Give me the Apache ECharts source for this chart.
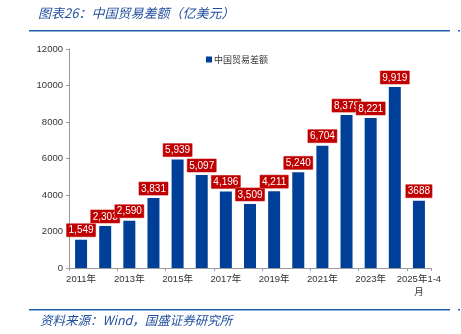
<!DOCTYPE html>
<html><head><meta charset="utf-8">
<script src="https://cdn.jsdelivr.net/npm/echarts@6/dist/echarts.min.js"></script>
<style>html,body{margin:0;padding:0;background:#fff}#c{width:461px;height:334px}</style>
</head><body><div id="c"></div>
<script>
const categories = ['2011年','2012年','2013年','2014年','2015年','2016年','2017年','2018年','2019年','2020年','2021年','2022年','2023年','2024年','2025年1-4\n月'];
const values = [1549,2303,2590,3831,5939,5097,4196,3509,4211,5240,6704,8379,8221,9919,3688];
const valueLabels = ['1,549','2,303','2,590','3,831','5,939','5,097','4,196','3,509','4,211','5,240','6,704','8,379','8,221','9,919','3688'];
const yTicks = [0,2000,4000,6000,8000,10000,12000];
const seriesName = '中国贸易差额';
const titleText = '图表26：中国贸易差额（亿美元）';
const sourceText = '资料来源：Wind，国盛证券研究所';

const FONT = '"Liberation Sans", Arial, "Noto Sans CJK SC", sans-serif';
const chart = echarts.init(document.getElementById('c'), null, {renderer:'canvas'});
chart.setOption({
  animation:false,
  textStyle:{fontFamily:FONT},
  grid:{left:69,right:30,top:49,bottom:66},
  legend:{show:true,left:201,top:50,itemWidth:6,itemHeight:6,itemGap:4,icon:'rect',
    textStyle:{fontSize:9,color:'#333',fontFamily:'"Noto Sans CJK SC", sans-serif',padding:[0,0,0,-3]},
    data:[seriesName]},
  xAxis:{type:'category',data:categories,
    axisLine:{lineStyle:{color:'#999',width:1}},
    axisTick:{show:true,interval:1,length:3,lineStyle:{color:'#999'}},
    axisLabel:{interval:1,color:'#333',fontSize:9.5,margin:5,lineHeight:13,fontFamily:FONT}},
  yAxis:{type:'value',min:yTicks[0],max:yTicks[yTicks.length-1],interval:2000,
    splitLine:{show:false},
    axisLine:{show:true,lineStyle:{color:'#999'}},
    axisTick:{show:true,length:3,lineStyle:{color:'#999'}},
    axisLabel:{color:'#333',fontSize:9.5,margin:6,fontFamily:FONT,formatter:v=>String(v)}},
  series:[{name:seriesName,type:'bar',data:values,barWidth:12,
    itemStyle:{color:'#003f98'},
    label:{show:true,position:'top',distance:3,
      formatter:p=>valueLabels[p.dataIndex],
      color:'#fff',fontSize:10,fontFamily:FONT,
      backgroundColor:'#c00000',borderColor:'#e08080',borderWidth:0.5,padding:[1,2,0,2],lineHeight:12}}],
  graphic:[
    {type:'text',left:38,top:7,style:{text:titleText,fill:'#1f4e9c',fontSize:13,fontStyle:'italic',fontFamily:'"Noto Sans CJK SC", sans-serif'}},
    {type:'rect',shape:{x:29,y:30,width:421,height:1.5},style:{fill:'#1f5fb0'}},
    {type:'rect',shape:{x:458,y:30,width:2,height:1.5},style:{fill:'#1f5fb0'}},
    {type:'rect',shape:{x:29,y:309,width:421,height:1.5},style:{fill:'#1f5fb0'}},
    {type:'rect',shape:{x:458,y:309,width:2,height:1.5},style:{fill:'#1f5fb0'}},
    {type:'text',left:40,top:314,style:{text:sourceText,fill:'#1f4e9c',fontSize:12.5,fontStyle:'italic',fontFamily:'"Noto Sans CJK SC", sans-serif'}}
  ]
});
</script></body></html>
